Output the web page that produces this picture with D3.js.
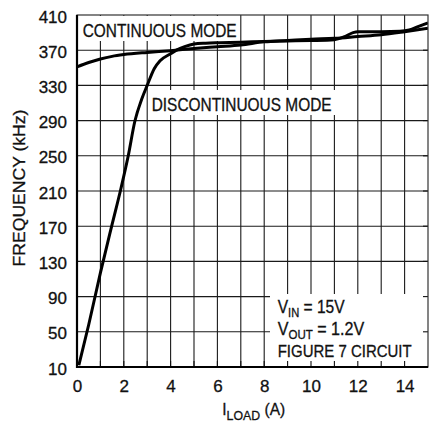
<!DOCTYPE html>
<html><head><meta charset="utf-8">
<script src="https://cdn.jsdelivr.net/npm/d3@7"></script>
<style>
html,body{margin:0;padding:0;background:#fff;}
svg{display:block;}
text{font-family:"Liberation Sans",Arial,sans-serif;fill:#111;stroke:#111;stroke-width:0.3px;}
</style></head>
<body>
<svg id="chart" width="429" height="428"></svg>
<script>
// ---- data ----
const xTickValues = [0, 2, 4, 6, 8, 10, 12, 14];
const yTickValues = [10, 50, 90, 130, 170, 210, 250, 290, 330, 370, 410];
const continuousLoad = [0, 0.5, 1, 1.5, 2, 3, 4, 5, 6, 7, 8, 9, 10, 11, 12, 13, 14, 15];
const continuousFreq = [351, 356, 360, 363, 365, 367.5, 369.5, 372, 374, 376, 379.5, 381, 382.5, 383.5, 385.5, 387.5, 391, 395];
const discontinuousLoad = [0.08, 0.5, 1.0, 1.5, 1.87, 2.19, 2.47, 2.76, 3.0, 3.3, 3.55, 4.0, 4.25, 4.6, 5.0, 5.5, 6, 7, 8, 9, 10, 11, 11.4, 11.8, 12, 13, 13.8, 14.2, 14.6, 15];
const discontinuousFreq = [12, 58, 117, 172, 212, 250, 289, 314, 330, 349, 358, 366, 370, 374, 377, 378, 378.5, 379, 380, 380.5, 381, 382, 385, 390, 391, 391, 391.5, 393, 397, 401];
const labelContinuous = "CONTINUOUS MODE";
const labelDiscontinuous = "DISCONTINUOUS MODE";
const yAxisTitle = "FREQUENCY (kHz)";
const noteLines = [["V", "IN", " = 15V"], ["V", "OUT", " = 1.2V"], ["FIGURE 7 CIRCUIT", "", ""]];

// ---- layout ----
const svg = d3.select("#chart");
const L = 77, R = 428, T = 15, B = 367;
const x = d3.scaleLinear().domain([0, 15]).range([L, R]);
const y = d3.scaleLinear().domain([10, 410]).range([B, T]);

function placeText(px, py, str, size, targetW, anchor) {
  const g = svg.append("g");
  const t = g.append("text").attr("font-size", size).attr("text-anchor", anchor || "start").text(str);
  const s = targetW ? targetW / t.node().getComputedTextLength() : 1;
  g.attr("transform", `translate(${px},${py}) scale(${s},1)`);
  return g;
}

// grid
const gridG = svg.append("g").attr("stroke", "#1a1a1a").attr("stroke-width", 1.1);
gridG.selectAll("line.v").data(d3.range(1, 15)).join("line")
  .attr("x1", d => x(d)).attr("x2", d => x(d)).attr("y1", T).attr("y2", B);
gridG.selectAll("line.h").data(yTickValues.slice(1, -1)).join("line")
  .attr("x1", L).attr("x2", R).attr("y1", d => y(d)).attr("y2", d => y(d));

// label boxes (white, cover grid)
svg.append("rect").attr("x", L + 1).attr("y", T + 1).attr("width", 239 - L - 1).attr("height", 41 - T - 1).attr("fill", "#fff");
svg.append("rect").attr("x", 149).attr("y", 90).attr("width", 336 - 149).attr("height", 25).attr("fill", "#fff");
svg.append("rect").attr("x", 270).attr("y", 294).attr("width", R - 270).attr("height", B - 294).attr("fill", "#fff");

// inner ticks
const tickG = svg.append("g").attr("stroke", "#111").attr("stroke-width", 1.1);
tickG.selectAll("line.bt").data(d3.range(1, 15)).join("line")
  .attr("x1", d => x(d)).attr("x2", d => x(d)).attr("y1", B).attr("y2", B - 6);
tickG.selectAll("line.rt").data(yTickValues.slice(1, -1)).join("line")
  .attr("x1", R).attr("x2", R - 5).attr("y1", d => y(d)).attr("y2", d => y(d));

// curves
svg.append("clipPath").attr("id", "clip").append("rect").attr("x", L).attr("y", T).attr("width", R - L).attr("height", B - T);
const line = d3.line().x(d => x(d[0])).y(d => y(d[1])).curve(d3.curveMonotoneX);
const cData = continuousLoad.map((v, i) => [v, continuousFreq[i]]);
const dData = discontinuousLoad.map((v, i) => [v, discontinuousFreq[i]]);
[cData, dData].forEach(dd => {
  svg.append("path").datum(dd).attr("d", line).attr("fill", "none")
    .attr("stroke", "#000").attr("stroke-width", 3).attr("stroke-linejoin", "round")
    .attr("clip-path", "url(#clip)");
});

// frame
svg.append("rect").attr("x", L).attr("y", T).attr("width", R - L).attr("height", B - T)
  .attr("fill", "none").attr("stroke", "#333").attr("stroke-width", 1.2);
svg.append("path").attr("d", `M${L},${T}V${B}H${R}`).attr("fill", "none").attr("stroke", "#000").attr("stroke-width", 2.2);

// axes tick labels via d3 axis
const yAxis = svg.append("g").attr("transform", `translate(${L},0)`)
  .call(d3.axisLeft(y).tickValues(yTickValues).tickSize(0).tickPadding(10));
yAxis.select(".domain").remove();
yAxis.selectAll("text").attr("font-size", 17).attr("font-family", "Liberation Sans, Arial, sans-serif").attr("fill", "#111").attr("dy", "0.42em");
const xAxis = svg.append("g").attr("transform", `translate(0,${B})`)
  .call(d3.axisBottom(x).tickValues(xTickValues).tickSize(0).tickPadding(13));
xAxis.select(".domain").remove();
xAxis.selectAll("text").attr("font-size", 17).attr("font-family", "Liberation Sans, Arial, sans-serif").attr("fill", "#111");

// in-plot labels
placeText(82.7, 37, labelContinuous, 17.5, 154);
placeText(151.7, 111, labelDiscontinuous, 17.5, 180);

// annotation
const noteY = [313, 335, 357];
const noteW = [67, 86.6, 134];
const noteSize = [17.5, 17.5, 16.5];
noteLines.forEach((ln, i) => {
  const g = svg.append("g");
  const t = g.append("text").attr("font-size", noteSize[i]);
  t.append("tspan").text(ln[0]);
  if (ln[1]) {
    t.append("tspan").attr("font-size", 12.5).attr("dy", 3.5).text(ln[1]);
    t.append("tspan").attr("dy", -3.5).text(ln[2]);
  }
  const s = noteW[i] / t.node().getComputedTextLength();
  g.attr("transform", `translate(277.7,${noteY[i]}) scale(${s},1)`);
});

// x title
{
  const g = svg.append("g");
  const t = g.append("text").attr("font-size", 17);
  t.append("tspan").text("I");
  t.append("tspan").attr("font-size", 13.5).attr("dy", 5).text("LOAD");
  t.append("tspan").attr("dy", -5).text(" (A)");
  const s = 63 / t.node().getComputedTextLength();
  g.attr("transform", `translate(222.3,415) scale(${s},1)`);
}
// y title
{
  const g = svg.append("g");
  const t = g.append("text").attr("font-size", 17).attr("text-anchor", "middle").text(yAxisTitle);
  const s = 157 / t.node().getComputedTextLength();
  g.attr("transform", `translate(25,188) rotate(-90) scale(${s},1)`);
}
</script>
</body></html>
